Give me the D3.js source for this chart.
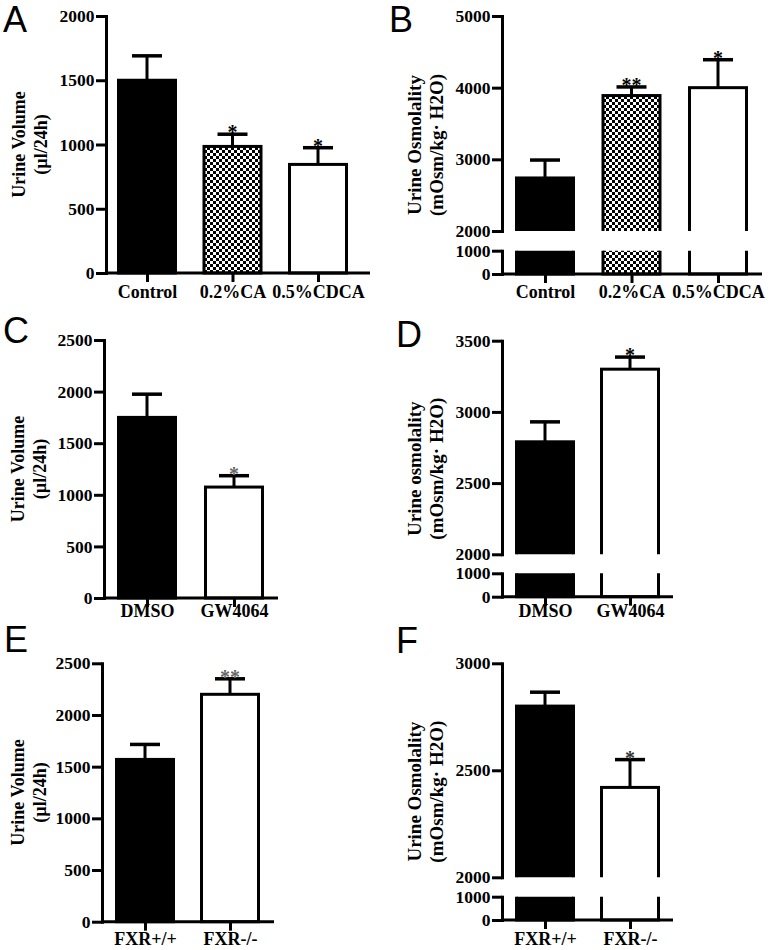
<!DOCTYPE html>
<html><head><meta charset="utf-8">
<script src="https://cdn.jsdelivr.net/npm/d3@7"></script>
<style>body{margin:0;background:#fff}svg{display:block}</style>
</head><body>
<svg id="c" width="771" height="950"></svg>
<script>
// ---------- data ----------
const catsA = ["Control", "0.2%CA", "0.5%CDCA"];
const meanA = [1500, 985, 845];
const semA  = [190, 95, 130];
const sigA  = ["", "*", "*"];
const ticksA = [0, 500, 1000, 1500, 2000];

const catsB = ["Control", "0.2%CA", "0.5%CDCA"];
const meanB = [2740, 3890, 4000];
const semB  = [250, 120, 390];
const sigB  = ["", "**", "*"];
const ticksBLower = [0, 1000];
const ticksBUpper = [2000, 3000, 4000, 5000];

const catsC = ["DMSO", "GW4064"];
const meanC = [1750, 1075];
const semC  = [225, 110];
const sigC  = ["", "*"];
const ticksC = [0, 500, 1000, 1500, 2000, 2500];

const catsD = ["DMSO", "GW4064"];
const meanD = [2790, 3300];
const semD  = [140, 85];
const sigD  = ["", "*"];
const ticksDLower = [0, 1000];
const ticksDUpper = [2000, 2500, 3000, 3500];

const catsE = ["FXR+/+", "FXR-/-"];
const meanE = [1570, 2200];
const semE  = [145, 150];
const sigE  = ["", "**"];
const ticksE = [0, 500, 1000, 1500, 2000, 2500];

const catsF = ["FXR+/+", "FXR-/-"];
const meanF = [2800, 2420];
const semF  = [65, 130];
const sigF  = ["", "*"];
const ticksFLower = [0, 1000];
const ticksFUpper = [2000, 2500, 3000];

const fills3 = ["black", "checker", "white"];
const fills2 = ["black", "white"];

// ---------- layout ----------
const SERIF = "'Liberation Serif','Times New Roman',serif";
const SANS = "'Liberation Sans',Arial,sans-serif";

const panels = [
  {letter:"A", lx:3, ly:32, cats:catsA, mean:meanA, sem:semA, sig:sigA, fills:fills3, starCol:"#000",
   axisX:106, xEnd:370, xc:[147,318],
   segs:[{domain:[0,2000], range:[273,16], ticks:ticksA}],
   ylab:["Urine Volume","(µl/24h)"], labX:[25,47], labFs:18, xlabY:298},
  {letter:"B", lx:389, ly:32, cats:catsB, mean:meanB, sem:semB, sig:sigB, fills:fills3, starCol:"#000",
   axisX:502, xEnd:762, xc:[545,718],
   segs:[{domain:[0,1000], range:[274,250.7], ticks:ticksBLower},
         {domain:[2000,5000], range:[231,16], ticks:ticksBUpper}],
   ylab:["Urine Osmolality","(mOsm/kg· H2O)"], labX:[421,443], labFs:19, xlabY:298},
  {letter:"C", lx:3, ly:343, cats:catsC, mean:meanC, sem:semC, sig:sigC, fills:fills2, starCol:"#666",
   axisX:104, xEnd:278, xc:[147,234],
   segs:[{domain:[0,2500], range:[598,340], ticks:ticksC}],
   ylab:["Urine Volume","(µl/24h)"], labX:[24,46], labFs:18, xlabY:617},
  {letter:"D", lx:396, ly:347, cats:catsD, mean:meanD, sem:semD, sig:sigD, fills:fills2, starCol:"#000",
   axisX:502, xEnd:673, xc:[545,630],
   segs:[{domain:[0,1000], range:[596.7,573.3], ticks:ticksDLower},
         {domain:[2000,3500], range:[554.3,340.7], ticks:ticksDUpper}],
   ylab:["Urine osmolality","(mOsm/kg· H2O)"], labX:[421,443], labFs:19, xlabY:617},
  {letter:"E", lx:4, ly:652, cats:catsE, mean:meanE, sem:semE, sig:sigE, fills:fills2, starCol:"#666",
   axisX:102, xEnd:274, xc:[145,230],
   segs:[{domain:[0,2500], range:[921.7,663.3], ticks:ticksE}],
   ylab:["Urine Volume","(µl/24h)"], labX:[24,46], labFs:18, xlabY:945},
  {letter:"F", lx:396, ly:653, cats:catsF, mean:meanF, sem:semF, sig:sigF, fills:fills2, starCol:"#333",
   axisX:502, xEnd:673, xc:[545,630],
   segs:[{domain:[0,1000], range:[920,896.7], ticks:ticksFLower},
         {domain:[2000,3000], range:[877.3,663.3], ticks:ticksFUpper}],
   ylab:["Urine Osmolality","(mOsm/kg· H2O)"], labX:[421,443], labFs:19, xlabY:945}
];

const svg = d3.select("#c");
const defs = svg.append("defs");
const pat = defs.append("pattern").attr("id","checker").attr("patternUnits","userSpaceOnUse")
  .attr("width",6).attr("height",6);
pat.append("rect").attr("width",6).attr("height",6).attr("fill","#fff");
pat.append("rect").attr("width",3).attr("height",3).attr("fill","#000");
pat.append("rect").attr("x",3).attr("y",3).attr("width",3).attr("height",3).attr("fill","#000");

const BW = 60, SW = 3, CAP = 15;

panels.forEach((p, pi) => {
  const g = svg.append("g");
  // panel letter
  g.append("text").attr("x", p.lx).attr("y", p.ly).attr("font-family", SANS)
    .attr("font-size", 36).text(p.letter);

  const x = d3.scalePoint().domain(p.cats).range(p.xc);
  const nseg = p.segs.length;
  const baseY = p.segs[0].range[0];
  const topY = p.segs[nseg-1].range[1];

  p.segs.forEach((s, si) => {
    const y = d3.scaleLinear().domain(s.domain).range(s.range);
    const isFirst = si === 0, isLast = si === nseg - 1;
    const clipTop = isLast ? 0 : s.range[1];
    const clipBot = isFirst ? s.range[0] + 20 : s.range[0];
    const cid = `clip${pi}_${si}`;
    defs.append("clipPath").attr("id", cid).append("rect")
      .attr("x", 0).attr("width", 771).attr("y", clipTop).attr("height", clipBot - clipTop);
    const sg = g.append("g").attr("clip-path", `url(#${cid})`);

    p.cats.forEach((c, i) => {
      const v = p.mean[i];
      if (v < s.domain[0]) return;
      const yTop = v > s.domain[1] ? s.range[1] - 10 : y(v);
      const yBot = isFirst ? y(0) : s.range[0] + 10;
      const f = p.fills[i];
      sg.append("rect")
        .attr("x", x(c) - BW/2 + SW/2).attr("width", BW - SW)
        .attr("y", yTop).attr("height", yBot - yTop)
        .attr("fill", f === "checker" ? "url(#checker)" : (f === "black" ? "#000" : "#fff"))
        .attr("stroke", "#000").attr("stroke-width", SW);
    });

    // error bars + significance (in the segment that holds the mean)
    p.cats.forEach((c, i) => {
      const v = p.mean[i], e = v + p.sem[i];
      if (v < s.domain[0] || v > s.domain[1]) return;
      g.append("line").attr("x1", x(c)).attr("x2", x(c)).attr("y1", y(v)).attr("y2", y(e))
        .attr("stroke", "#000").attr("stroke-width", SW);
      g.append("line").attr("x1", x(c) - CAP).attr("x2", x(c) + CAP).attr("y1", y(e)).attr("y2", y(e))
        .attr("stroke", "#000").attr("stroke-width", 3.5);
      if (p.sig[i]) {
        g.append("text").attr("x", x(c)).attr("y", y(e) + 5).attr("text-anchor", "middle")
          .attr("font-family", SERIF).attr("font-weight", "bold").attr("font-size", 20)
          .attr("fill", p.starCol).text(p.sig[i]);
      }
    });

    // y axis segment
    const ax = g.append("g").attr("transform", `translate(${p.axisX},0)`)
      .call(d3.axisLeft(y).tickValues(s.ticks).tickSize(10).tickSizeOuter(0).tickPadding(1.5)
        .tickFormat(d3.format("d")));
    ax.select(".domain").attr("stroke-width", SW).attr("stroke-linecap", "square");
    ax.selectAll(".tick line").attr("stroke-width", SW);
    ax.selectAll(".tick text").attr("font-family", SERIF).attr("font-weight", "bold")
      .attr("font-size", 17.5).attr("fill", "#000");
  });

  // x axis
  g.append("line").attr("x1", p.axisX).attr("x2", p.xEnd).attr("y1", baseY).attr("y2", baseY)
    .attr("stroke", "#000").attr("stroke-width", SW);
  const xa = g.append("g").attr("transform", `translate(0,${baseY})`)
    .call(d3.axisBottom(x).tickSize(9).tickPadding(6));
  xa.select(".domain").remove();
  xa.selectAll(".tick line").attr("stroke-width", SW);
  xa.selectAll(".tick text").attr("y", p.xlabY - baseY).attr("dy", 0)
    .attr("font-family", SERIF).attr("font-weight", "bold").attr("font-size", 18).attr("fill", "#000");

  // y label
  const cy = (baseY + topY) / 2;
  p.ylab.forEach((t, li) => {
    g.append("text").attr("transform", `translate(${p.labX[li]},${cy}) rotate(-90)`)
      .attr("text-anchor", "middle").attr("font-family", SERIF).attr("font-weight", "bold")
      .attr("font-size", p.labFs).text(t);
  });
});
</script>
</body></html>
